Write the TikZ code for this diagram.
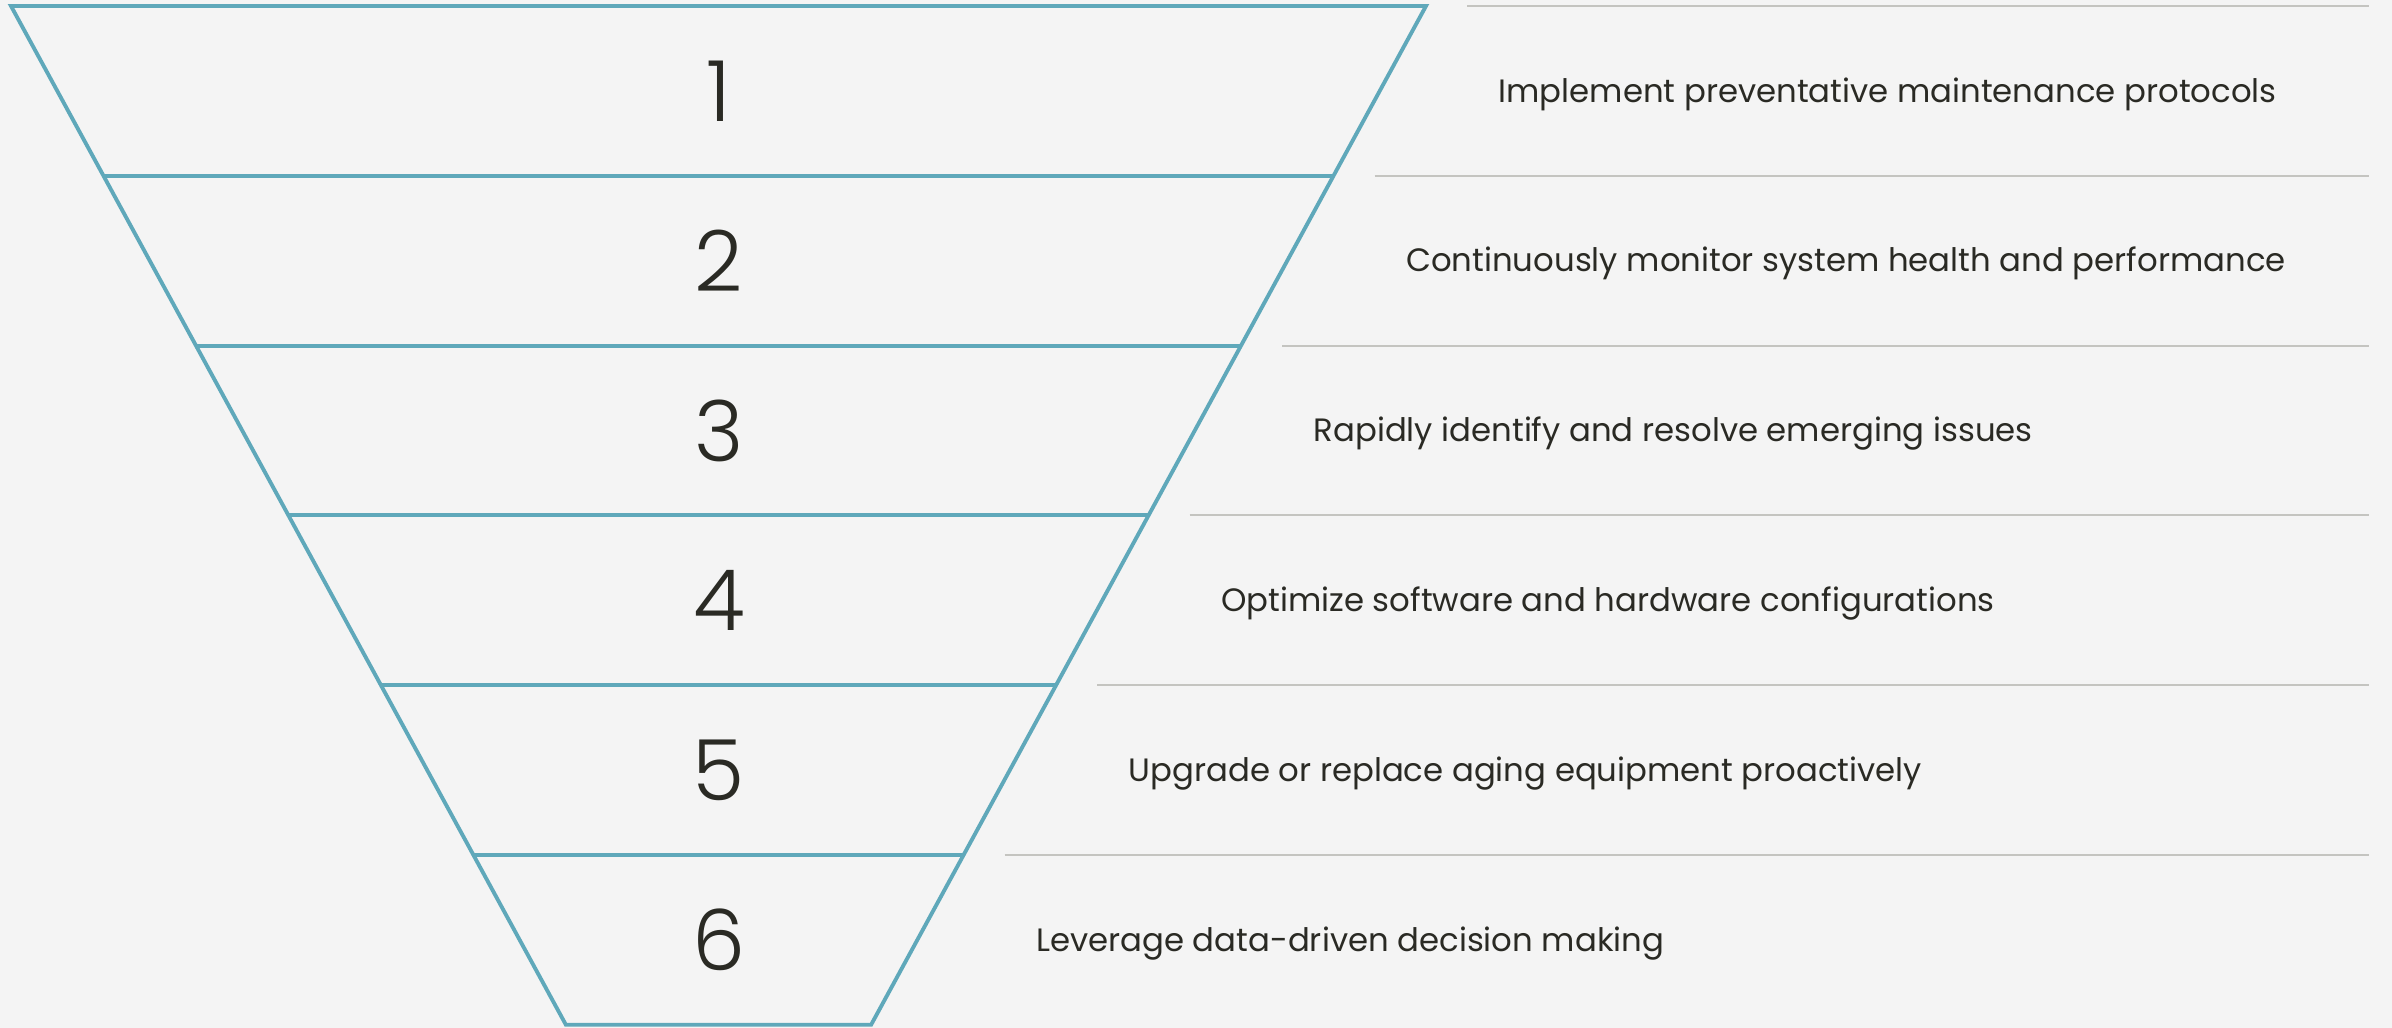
\documentclass[tikz,border=0pt]{standalone}
\usepackage{fontspec}
\setmainfont{Poppins}
\newfontfamily\numfont{Poppins Light}
\usetikzlibrary{positioning}
\definecolor{funnelteal}{HTML}{5FA8BA}
\definecolor{rulegray}{HTML}{C4C4C0}
\definecolor{inkdark}{HTML}{2A2A24}
\definecolor{paper}{HTML}{F4F4F4}
\tikzstyle{num} = [text=inkdark, font=\numfont\fontsize{24}{24}\selectfont, inner sep=0]
\tikzstyle{stepnote} = [anchor=base west, text=inkdark, font=\fontsize{9.2}{11}\selectfont, inner sep=0]
\tikzstyle{funnel} = [draw=funnelteal, line width=1.1pt, line join=miter]
\tikzstyle{rule} = [draw=rulegray, line width=0.6pt]

\begin{document}
\begin{tikzpicture}[node distance=1.698cm]

\fill [paper] (0,0) rectangle (23.92,10.28);
\useasboundingbox (0,0) rectangle (23.92,10.28);

% funnel corners, left and right, one pair per level
\coordinate (L0) at (0.11,10.22);  \coordinate (R0) at (14.26,10.22);
\coordinate (L1) at (1.035,8.522); \coordinate (R1) at (13.335,8.522);
\coordinate (L2) at (1.96,6.824);  \coordinate (R2) at (12.41,6.824);
\coordinate (L3) at (2.885,5.126); \coordinate (R3) at (11.485,5.126);
\coordinate (L4) at (3.81,3.428);  \coordinate (R4) at (10.56,3.428);
\coordinate (L5) at (4.734,1.73);  \coordinate (R5) at (9.636,1.73);
\coordinate (L6) at (5.659,0.032); \coordinate (R6) at (8.711,0.032);

\draw [funnel] (L0) -- (R0) -- (R6) -- (L6) -- cycle;
\draw [funnel] (L1) -- (R1);
\draw [funnel] (L2) -- (R2);
\draw [funnel] (L3) -- (R3);
\draw [funnel] (L4) -- (R4);
\draw [funnel] (L5) -- (R5);

% grey rules on the right
\coordinate (G0) at (14.67,10.22);  \coordinate (E0) at (23.69,10.22);
\coordinate (G1) at (13.745,8.522); \coordinate (E1) at (23.69,8.522);
\coordinate (G2) at (12.82,6.824);  \coordinate (E2) at (23.69,6.824);
\coordinate (G3) at (11.895,5.126); \coordinate (E3) at (23.69,5.126);
\coordinate (G4) at (10.97,3.428);  \coordinate (E4) at (23.69,3.428);
\coordinate (G5) at (10.046,1.73);  \coordinate (E5) at (23.69,1.73);

\path [rule] (G0) -- (E0);
\path [rule] (G1) -- (E1);
\path [rule] (G2) -- (E2);
\path [rule] (G3) -- (E3);
\path [rule] (G4) -- (E4);
\path [rule] (G5) -- (E5);

\node [num] (n1) at (7.19,9.371) {1};
\node [num, below of=n1] (n2) {2};
\node [num, below of=n2] (n3) {3};
\node [num, below of=n3] (n4) {4};
\node [num, below of=n4] (n5) {5};
\node [num, below of=n5] (n6) {6};

\node [stepnote] (t1) at (14.98,9.258) {Implement preventative maintenance protocols};
\node [stepnote] (t2) at (14.055,7.56) {Continuously monitor system health and performance};
\node [stepnote] (t3) at (13.13,5.862) {Rapidly identify and resolve emerging issues};
\node [stepnote] (t4) at (12.205,4.164) {Optimize software and hardware configurations};
\node [stepnote] (t5) at (11.28,2.466) {Upgrade or replace aging equipment proactively};
\node [stepnote] (t6) at (10.356,0.768) {Leverage data-driven decision making};

\end{tikzpicture}
\end{document}
